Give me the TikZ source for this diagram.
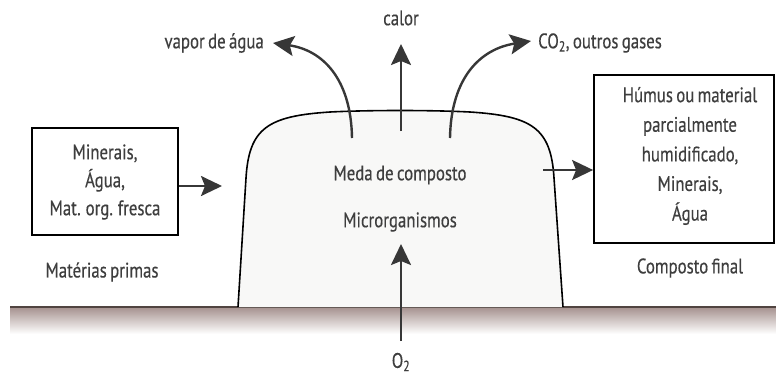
\documentclass[tikz,border=0pt]{standalone}
\usepackage{fontspec}
\setmainfont[FakeStretch=0.80, FakeBold=0.4, WordSpace=0.75]{PT Sans}
\usetikzlibrary{arrows.meta}
\definecolor{txt}{RGB}{62,62,62}
\definecolor{arr}{RGB}{55,55,55}
\definecolor{mound}{RGB}{248,248,247}
\definecolor{soil}{RGB}{165,145,142}
\definecolor{soilline}{RGB}{80,68,64}
\tikzset{
  lbl/.style={text=txt, font=\fontsize{21}{28}\selectfont, inner sep=0pt, align=center},
  boxnode/.style={draw=black, line width=1.8pt, inner sep=0pt},
  flow/.style={draw=arr, line width=2.4pt, -{Stealth[length=21pt,width=20pt,inset=4pt]}},
}
\begin{document}
\begin{tikzpicture}[x=1pt,y=-1pt]
\useasboundingbox (0,0) rectangle (776,378);
% ground
\shade[top color=soil, bottom color=white] (10,307) rectangle (776,334);
\draw[soilline, line width=2.6pt] (10,307) -- (776,307);
% mound
\filldraw[fill=mound, draw=black, line width=1.6pt]
  (238,307) -- (246,178) .. controls (249,128) and (268,116) .. (330,112)
  .. controls (370,110) and (430,110) .. (470,112)
  .. controls (532,116) and (551,128) .. (554,178) -- (563,307);
% boxes
\node[boxnode, minimum width=146pt, minimum height=107pt] (left) at (105,181.5) {};
\node[lbl, align=center, font=\fontsize{21}{28}\selectfont] (lefttxt) at (105,182) {Minerais,\\Água,\\Mat. org. fresca};
\node[boxnode, minimum width=180pt, minimum height=168pt] (right) at (684,159) {};
\node[lbl, align=center, font=\fontsize{21}{29.6}\selectfont] (righttxt) at (690,156) {Húmus ou material\\parcialmente\\humidificado,\\Minerais,\\Água};
% labels
\node[lbl] (mp) at (102,272) {Matérias primas};
\node[lbl] (cf) at (690,268) {Composto final};
\node[lbl] (meda) at (400,175) {Meda de composto};
\node[lbl] (micro) at (400,222) {Microrganismos};
\node[lbl] (calor) at (401,18) {calor};
\node[lbl, anchor=east] (vapor) at (264,43) {vapor de água};
\node[lbl, anchor=west] (co2) at (538,43) {CO\textsubscript{2}, outros gases};
\node[lbl] (o2) at (401,362) {O\textsubscript{2}};
% coordinates
\coordinate (vs) at (352,138);
\coordinate (vt) at (273,43);
\coordinate (cs) at (401,131);
\coordinate (ct) at (401,44);
\coordinate (gs) at (450,138);
\coordinate (gt) at (531,41);
\coordinate (os) at (401,341);
\coordinate (ot) at (401,244);
\coordinate (ml) at (222,186);
\coordinate (mr) at (543,170);
% arrows
\draw[flow] (left.east |- ml) -- (ml);
\draw[flow] (mr) -- (right.west |- mr);
\draw[flow] (vs) .. controls (351,78) and (322,50) .. (vt);
\draw[flow] (cs) -- (ct);
\draw[flow] (gs) .. controls (451,78) and (480,49) .. (gt);
\draw[flow] (os) -- (ot);
\end{tikzpicture}
\end{document}
